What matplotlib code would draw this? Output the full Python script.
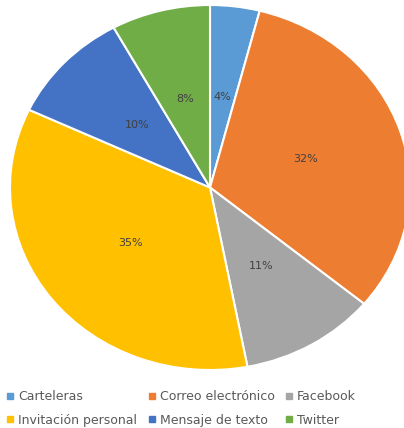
import matplotlib
matplotlib.use("Agg")
import matplotlib.pyplot as plt
from matplotlib.lines import Line2D

categories = ['Carteleras', 'Correo electrónico', 'Facebook',
              'Invitación personal', 'Mensaje de texto', 'Twitter']
values = [4, 32, 11, 35, 10, 8]
colors = ['#5B9BD5', '#ED7D31', '#A5A5A5', '#FFC000', '#4472C4', '#70AD47']

W, H = 404, 428
fig = plt.figure(figsize=(W / 100, H / 100), dpi=100)
plt.rcParams['font.family'] = ['DejaVu Sans']

# pie box in pixels (the original is stretched horizontally and cut at the right)
left, right, top, bottom = 10, 410, 5, 370
ax = fig.add_axes([left / W, (H - bottom) / H, (right - left) / W, (bottom - top) / H])
wedges, texts, autotexts = ax.pie(
    values, colors=colors, startangle=90, counterclock=False,
    autopct='%1.0f%%', pctdistance=0.5,
    wedgeprops=dict(edgecolor='white', linewidth=1.5),
    textprops=dict(color='#404040', fontsize=8))
ax.set_xlim(-1, 1)
ax.set_ylim(-1, 1)
ax.set_aspect('auto')

# legend laid out row by row like the original
order = [0, 3, 1, 4, 2, 5]
handles = [Line2D([], [], marker='s', linestyle='none', markersize=5,
                  color=colors[i], label=categories[i]) for i in order]
fig.legend(handles=handles, ncol=3, loc='lower left',
           bbox_to_anchor=(0.0, -0.01), frameon=False, fontsize=9,
           labelcolor='#595959', handletextpad=0.3, columnspacing=0.8,
           handlelength=0.7, borderaxespad=0.05, labelspacing=0.85)

fig.savefig('out.png', dpi=100)
